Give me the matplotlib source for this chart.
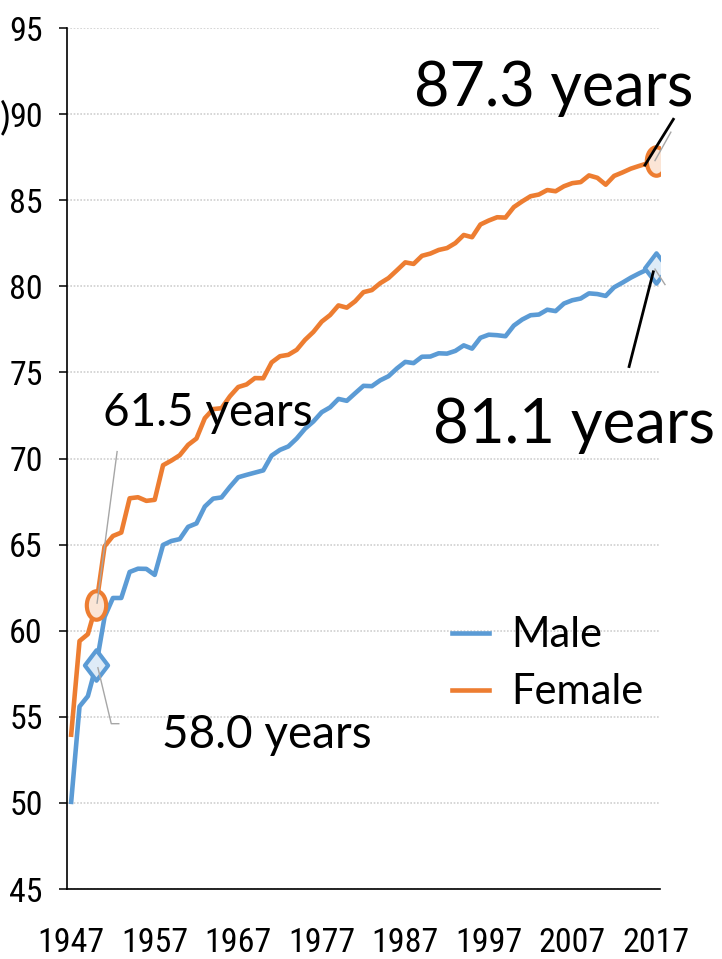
import matplotlib
matplotlib.use("Agg")
import matplotlib.pyplot as plt
from matplotlib.path import Path
from matplotlib.lines import Line2D
from matplotlib import font_manager
from matplotlib.font_manager import FontProperties
import numpy as np

# ---------------- data ----------------
years = list(range(1947, 2018))
male = [50.06, 55.60, 56.20, 58.00, 60.80, 61.90, 61.90, 63.41, 63.60, 63.59,
        63.24, 64.98, 65.21, 65.32, 66.03, 66.23, 67.21, 67.67, 67.74, 68.35,
        68.91, 69.05, 69.18, 69.31, 70.17, 70.50, 70.70, 71.16, 71.73, 72.15,
        72.69, 72.97, 73.46, 73.35, 73.79, 74.22, 74.20, 74.54, 74.78, 75.23,
        75.61, 75.54, 75.91, 75.92, 76.11, 76.09, 76.25, 76.57, 76.38, 77.01,
        77.19, 77.16, 77.10, 77.72, 78.07, 78.32, 78.36, 78.64, 78.56, 79.00,
        79.19, 79.29, 79.59, 79.55, 79.44, 79.94, 80.21, 80.50, 80.75, 80.98,
        81.09]
female = [53.96, 59.40, 59.80, 61.50, 64.90, 65.50, 65.70, 67.69, 67.75, 67.54,
          67.60, 69.61, 69.88, 70.19, 70.79, 71.16, 72.34, 72.87, 72.92, 73.61,
          74.15, 74.30, 74.67, 74.66, 75.58, 75.94, 76.02, 76.31, 76.89, 77.35,
          77.95, 78.33, 78.89, 78.76, 79.13, 79.66, 79.78, 80.18, 80.48, 80.93,
          81.39, 81.30, 81.77, 81.90, 82.11, 82.22, 82.51, 82.98, 82.85, 83.59,
          83.82, 84.01, 83.99, 84.60, 84.93, 85.23, 85.33, 85.59, 85.52, 85.81,
          85.99, 86.05, 86.44, 86.30, 85.90, 86.41, 86.61, 86.83, 86.99, 87.14,
          87.26]
series_names = ["Male", "Female"]
highlight_years = [1950, 2017]
xtick_years = [1947, 1957, 1967, 1977, 1987, 1997, 2007, 2017]
yticks = [45, 50, 55, 60, 65, 70, 75, 80, 85, 90, 95]
labels_male = ["58.0 years", "81.1 years"]
labels_female = ["61.5 years", "87.3 years"]

# ---------------- style ----------------
BLUE = "#5B9BD5"
ORANGE = "#ED7D31"
BLUE_FILL = "#DEEBF7"
ORANGE_FILL = "#FBE5D6"
GRID = "#D0D0D0"
LEADER = "#A6A6A6"

ttf = font_manager.fontManager.ttflist
avail = {f.name for f in ttf}
text_font = "Lato" if "Lato" in avail else "DejaVu Sans"


def is_regular(f):
    return f.style == "normal" and f.weight in (400, "normal", "regular", "book")


# pick a condensed face for the tick labels if one is installed
tick_prop = None
tick_size = 20
prefs = ["Liberation Sans Narrow", "Roboto Condensed", "Open Sans Condensed",
         "Noto Sans", "Open Sans", "Roboto", "DejaVu Sans"]
for name in prefs:
    cands = [f for f in ttf if f.name == name and is_regular(f) and
             ("Narrow" in f.name or "Condensed" in f.name or
              str(f.stretch) in ("condensed", "semi-condensed", "extra-condensed"))]
    if cands:
        tick_prop = FontProperties(fname=cands[0].fname)
        tick_size = 24.5
        break
if tick_prop is None:
    tick_prop = FontProperties(family="Liberation Sans")
    tick_size = 20

fig = plt.figure(figsize=(7.22, 9.59), dpi=100)
ax = fig.add_axes([67 / 722, 70 / 959, 593 / 722, 861 / 959])

ax.set_xlim(1946.5, 2017.5)
ax.set_ylim(45, 95)

# markers
uc = Path.unit_circle()
ellipse = Path(uc.vertices * np.array([0.68, 1.0]), uc.codes)
diamond = Path([(0, 1), (0.76, 0), (0, -1), (-0.76, 0), (0, 1)],
               [Path.MOVETO, Path.LINETO, Path.LINETO, Path.LINETO, Path.CLOSEPOLY])
mark_idx = [years.index(y) for y in highlight_years]

ax.plot(years, male, color=BLUE, lw=3.3, solid_joinstyle="round",
        marker=diamond, markevery=mark_idx, ms=22, mfc=BLUE_FILL, mec=BLUE, mew=3, zorder=3)
ax.plot(years, female, color=ORANGE, lw=3.3, solid_joinstyle="round",
        marker=ellipse, markevery=mark_idx, ms=20.5, mfc=ORANGE_FILL, mec=ORANGE, mew=3, zorder=3)

# grid / spines / ticks
ax.set_yticks(yticks)
ax.set_xticks(xtick_years)
ax.set_xticklabels([str(y) for y in xtick_years])
ax.yaxis.grid(True, color=GRID, linestyle=(0, (1, 1)), lw=1.2)
ax.set_axisbelow(True)
for s in ["top", "right"]:
    ax.spines[s].set_visible(False)
ax.spines["left"].set_linewidth(1.2)
ax.spines["bottom"].set_linewidth(1.2)
ax.tick_params(axis="y", length=5.5, width=1.1, pad=12, direction="out")
ax.tick_params(axis="x", length=0, pad=27)
for lbl in ax.get_xticklabels() + ax.get_yticklabels():
    lbl.set_fontproperties(tick_prop)
    lbl.set_fontsize(tick_size)

# leader lines (data coords)
ax.plot([1950.1, 1952.5], [61.6, 70.4], color=LEADER, lw=1.0, zorder=5, clip_on=False)
ax.plot([1950.2, 1951.8, 1952.7], [57.85, 54.6, 54.6], color=LEADER, lw=1.0, zorder=5, clip_on=False)
ax.plot([2016.9, 2018.8], [87.3, 88.95], color=LEADER, lw=1.0, zorder=5, clip_on=False)
ax.plot([2015.7, 2019.1], [87.04, 89.7], color="black", lw=2.0, zorder=6, clip_on=False)
ax.plot([2016.9, 2018.1], [81.0, 80.1], color=LEADER, lw=1.0, zorder=5, clip_on=False)
ax.plot([2016.7, 2013.8], [80.84, 75.34], color="black", lw=2.0, zorder=6, clip_on=False)

# annotation texts
ax.text(1988.0, 90.45, labels_female[1], family=text_font, fontsize=44, ha="left", va="baseline", zorder=7, clip_on=False)
ax.text(1990.3, 70.9, labels_male[1], family=text_font, fontsize=44.5, ha="left", va="baseline", zorder=7, clip_on=False)
ax.text(1950.8, 71.87, labels_female[0], family=text_font, fontsize=33, ha="left", va="baseline", zorder=7)
ax.text(1957.9, 53.2, labels_male[0], family=text_font, fontsize=33, ha="left", va="baseline", zorder=7)

# legend
handles = [Line2D([], [], color=BLUE, lw=3.3), Line2D([], [], color=ORANGE, lw=3.3)]
ax.legend(handles, series_names, loc="upper left", bbox_to_anchor=(0.6485, 0.3165),
          frameon=False, prop={"family": text_font, "size": 30},
          handlelength=0.9, handletextpad=0.53, labelspacing=0.45, borderpad=0, borderaxespad=0)

# visible fragment of the axis title at the left edge
fig.text(0.0, 1 - 118 / 959, ")", family=text_font, fontsize=28, ha="left", va="center")

fig.savefig("out.png", dpi=100)
